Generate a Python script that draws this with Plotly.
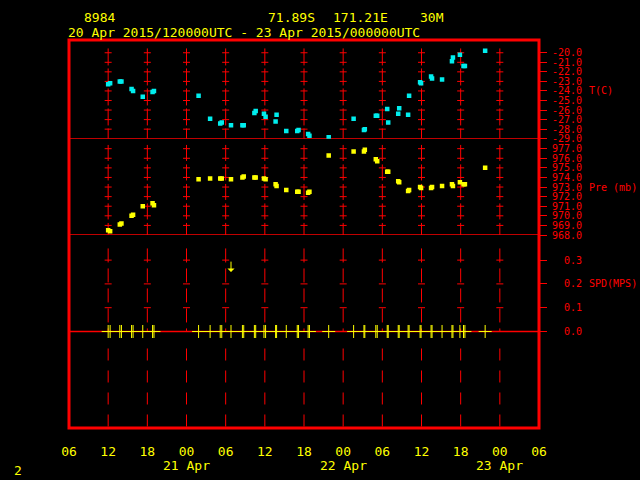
import plotly.graph_objects as go

# ---------------- data ----------------
obs_times = [
    '2015-04-20 12:00', '2015-04-20 12:18', '2015-04-20 13:47', '2015-04-20 14:02',
    '2015-04-20 15:35', '2015-04-20 15:49', '2015-04-20 17:18', '2015-04-20 18:48',
    '2015-04-20 19:01', '2015-04-21 01:51', '2015-04-21 03:37', '2015-04-21 05:10',
    '2015-04-21 05:24', '2015-04-21 06:49', '2015-04-21 08:34', '2015-04-21 08:46',
    '2015-04-21 10:24', '2015-04-21 10:36', '2015-04-21 11:52', '2015-04-21 12:07',
    '2015-04-21 13:39', '2015-04-21 13:48', '2015-04-21 15:17', '2015-04-21 16:58',
    '2015-04-21 17:10', '2015-04-21 18:38', '2015-04-21 18:50', '2015-04-21 21:47',
    '2015-04-22 01:36', '2015-04-22 03:11', '2015-04-22 03:19', '2015-04-22 05:00',
    '2015-04-22 05:13', '2015-04-22 06:45', '2015-04-22 06:54', '2015-04-22 08:26',
    '2015-04-22 08:35', '2015-04-22 09:57', '2015-04-22 10:06', '2015-04-22 11:47',
    '2015-04-22 11:56', '2015-04-22 13:28', '2015-04-22 13:37', '2015-04-22 15:09',
    '2015-04-22 16:40', '2015-04-22 16:49', '2015-04-22 17:53', '2015-04-22 18:26',
    '2015-04-22 18:39', '2015-04-22 21:45',
]
temp_c = [
    -23.3, -23.2, -23.0, -23.0, -23.8, -24.0, -24.6, -24.1, -24.0, -24.5,
    -26.9, -27.4, -27.3, -27.6, -27.6, -27.6, -26.3, -26.1, -26.4, -26.7,
    -27.2, -26.5, -28.2, -28.2, -28.1, -28.5, -28.7, -28.85, -26.9, -28.1,
    -28.0, -26.6, -26.6, -25.9, -27.3, -26.4, -25.8, -26.5, -24.5, -23.1,
    -23.2, -22.5, -22.7, -22.8, -20.9, -20.5, -20.2, -21.4, -21.4, -19.8,
]
pres_mb = [
    968.5, 968.4, 969.1, 969.2, 970.0, 970.1, 971.0, 971.3, 971.1, 973.8,
    973.9, 973.9, 973.9, 973.8, 974.0, 974.1, 974.0, 974.0, 973.9, 973.8,
    973.3, 973.1, 972.7, 972.5, 972.5, 972.4, 972.5, 976.3, 976.7, 976.7,
    976.9, 975.9, 975.7, 974.6, 974.6, 973.6, 973.5, 972.6, 972.7, 973.0,
    972.9, 972.9, 973.0, 973.1, 973.3, 973.1, 973.5, 973.3, 973.3, 975.0,
]
spd_mps = [
    0.0, 0.0, 0.0, 0.0, 0.0, 0.0, 0.0, 0.0, 0.0, 0.0,
    0.0, 0.0, 0.0, 0.0, 0.0, 0.0, 0.0, 0.0, 0.0, 0.0,
    0.0, 0.0, 0.0, 0.0, 0.0, 0.0, 0.0, 0.0, 0.0, 0.0,
    0.0, 0.0, 0.0, 0.0, 0.0, 0.0, 0.0, 0.0, 0.0, 0.0,
    0.0, 0.0, 0.0, 0.0, 0.0, 0.0, 0.0, 0.0, 0.0, 0.0,
]
arrow_times = ['2015-04-21 06:49']
arrow_spd = [0.30]

t_ticks = [-20.0, -21.0, -22.0, -23.0, -24.0, -25.0, -26.0, -27.0, -28.0, -29.0]
p_ticks = [977.0, 976.0, 975.0, 974.0, 973.0, 972.0, 971.0, 970.0, 969.0, 968.0]
s_ticks = [0.3, 0.2, 0.1, 0.0]

x_tick_times = [
    '2015-04-20 06:00', '2015-04-20 12:00', '2015-04-20 18:00', '2015-04-21 00:00',
    '2015-04-21 06:00', '2015-04-21 12:00', '2015-04-21 18:00', '2015-04-22 00:00',
    '2015-04-22 06:00', '2015-04-22 12:00', '2015-04-22 18:00', '2015-04-23 00:00',
    '2015-04-23 06:00',
]
x_tick_text = ['06', '12', '18', '00', '06', '12', '18', '00', '06', '12', '18', '00', '06']
grid_times = x_tick_times[1:-1]
date_times = ['2015-04-21 00:00', '2015-04-22 00:00', '2015-04-23 00:00']
date_text = ['21 Apr', '22 Apr', '23 Apr']

# ---------------- style ----------------
RED = '#ff0000'
YEL = '#ffff00'
CYAN = '#00eeee'
MONO = 'DejaVu Sans Mono'
W, H = 640, 480
L, R, T, B = 69, 101, 40, 52
PH = H - T - B


def ypaper(pix):
    return (H - B - pix) / PH


def pad(s, n=5):
    return '\u00a0' * (n - len(s)) + s


fig = go.Figure()

# grid crosses (decoration)
for vals, yax in ((t_ticks[:-1], 'y'), (p_ticks[:-1], 'y2'), (s_ticks[:-1], 'y3')):
    gx, gy = [], []
    for gt in grid_times:
        for v in vals:
            gx.append(gt)
            gy.append(v)
    fig.add_trace(go.Scatter(x=gx, y=gy, yaxis=yax, mode='markers', hoverinfo='skip',
                             marker=dict(symbol='line-ew', size=5, color=RED,
                                         line=dict(color=RED, width=1)),
                             showlegend=False))

# data
fig.add_trace(go.Scatter(x=obs_times, y=temp_c, yaxis='y', mode='markers',
                         marker=dict(symbol='square', size=4.5, color=CYAN, line=dict(width=0)),
                         showlegend=False))
fig.add_trace(go.Scatter(x=obs_times, y=pres_mb, yaxis='y2', mode='markers',
                         marker=dict(symbol='square', size=4.5, color=YEL, line=dict(width=0)),
                         showlegend=False))
fig.add_trace(go.Scatter(x=obs_times, y=spd_mps, yaxis='y3', mode='markers',
                         marker=dict(symbol='cross-thin', size=9.3, color=YEL,
                                     line=dict(color=YEL, width=1)),
                         showlegend=False))

shapes = []
# vertical dashed lines
for gt in grid_times:
    shapes.append(dict(type='line', xref='x', yref='y', x0=gt, x1=gt, y0=-19.55, y1=-29,
                       line=dict(color=RED, width=1, dash='17px,3px'), layer='below'))
    shapes.append(dict(type='line', xref='x', yref='y2', x0=gt, x1=gt, y0=977.39, y1=967.7,
                       line=dict(color=RED, width=1, dash='16px,3.5px'), layer='below'))
    shapes.append(dict(type='line', xref='x', yref='y3', x0=gt, x1=gt, y0=0.349, y1=0.0,
                       line=dict(color=RED, width=1, dash='14px,6px'), layer='below'))
    shapes.append(dict(type='line', xref='x', yref='y3', x0=gt, x1=gt, y0=-0.0714, y1=-0.40,
                       line=dict(color=RED, width=1, dash='12px,10px'), layer='below'))
# panel separators / zero line
shapes.append(dict(type='line', xref='paper', yref='y', x0=0, x1=1, y0=-29, y1=-29,
                   line=dict(color=RED, width=1.5), layer='below'))
shapes.append(dict(type='line', xref='paper', yref='y2', x0=0, x1=1, y0=968, y1=968,
                   line=dict(color=RED, width=1.5), layer='below'))
shapes.append(dict(type='line', xref='paper', yref='y3', x0=0, x1=1, y0=0, y1=0,
                   line=dict(color=RED, width=1.5), layer='below'))
# frame
shapes.append(dict(type='rect', xref='paper', yref='paper', x0=0, x1=1, y0=0, y1=1,
                   line=dict(color=RED, width=3)))

annotations = []
for i, at in enumerate(arrow_times):
    annotations.append(dict(x=at, y=arrow_spd[i] - 0.05, xref='x', yref='y3',
                            ax=at, ay=arrow_spd[i], axref='x', ayref='y3',
                            showarrow=True, arrowhead=1, arrowsize=1.2, arrowwidth=1,
                            arrowcolor=YEL, text=''))
for dt, txt in zip(date_times, date_text):
    annotations.append(dict(x=dt, y=ypaper(465), xref='x', yref='paper', text=txt,
                            showarrow=False, xanchor='center', yanchor='middle',
                            font=dict(family=MONO, size=13, color=YEL)))


def paper_text(txt, px, py, color=YEL, size=13):
    annotations.append(dict(x=(px - L) / (W - L - R), y=ypaper(py), xref='paper', yref='paper',
                            text=txt, showarrow=False, xanchor='left', yanchor='middle',
                            font=dict(family=MONO, size=size, color=color)))


paper_text('8984', 82, 18)
paper_text('71.89S', 266, 18)
paper_text('171.21E', 331, 18)
paper_text('30M', 418, 18)
paper_text('20 Apr 2015/120000UTC - 23 Apr 2015/000000UTC', 66, 32)
paper_text('2', 12, 470)

xlab = (587 - L) / (W - L - R)
for txt, val, yr in (('T(C)', -24.0, 'y'), ('Pre (mb)', 973.0, 'y2'), ('SPD(MPS)', 0.2, 'y3')):
    annotations.append(dict(x=xlab, y=val, xref='paper', yref=yr, text=txt, showarrow=False,
                            xanchor='left', yanchor='middle',
                            font=dict(family=MONO, size=10, color=RED)))

yaxis_common = dict(side='right', anchor='x', showgrid=False, zeroline=False, showline=False,
                    ticks='outside', ticklen=7, tickcolor=RED, tickwidth=1, ticklabelstandoff=3,
                    tickfont=dict(family=MONO, size=10, color=RED), fixedrange=True)

fig.update_layout(
    width=W, height=H,
    margin=dict(l=L, r=R, t=T, b=B, pad=0),
    paper_bgcolor='black', plot_bgcolor='black',
    showlegend=False,
    xaxis=dict(type='date', range=['2015-04-20 06:00', '2015-04-23 06:00'], anchor='y3',
               tickvals=x_tick_times, ticktext=x_tick_text, showgrid=False, zeroline=False,
               showline=False, ticks='', ticklabelstandoff=14, fixedrange=True,
               tickfont=dict(family=MONO, size=13, color=YEL)),
    yaxis=dict(domain=[ypaper(138.7), 1], range=[-29, -18.665],
               tickvals=t_ticks, ticktext=[pad(f'{v:.1f}') for v in t_ticks], **yaxis_common),
    yaxis2=dict(domain=[ypaper(235), ypaper(138.7)], range=[968, 978.04],
                tickvals=p_ticks, ticktext=[pad(f'{v:.1f}') for v in p_ticks], **yaxis_common),
    yaxis3=dict(domain=[0, ypaper(235)], range=[-0.4055, 0.4055],
                tickvals=s_ticks, ticktext=[pad(f'{v:.1f}') for v in s_ticks], **yaxis_common),
    shapes=shapes,
    annotations=annotations,
)

fig.write_html('out.html', config={'displayModeBar': False},
               post_script="document.body.style.margin='0';document.body.style.background='black';")
